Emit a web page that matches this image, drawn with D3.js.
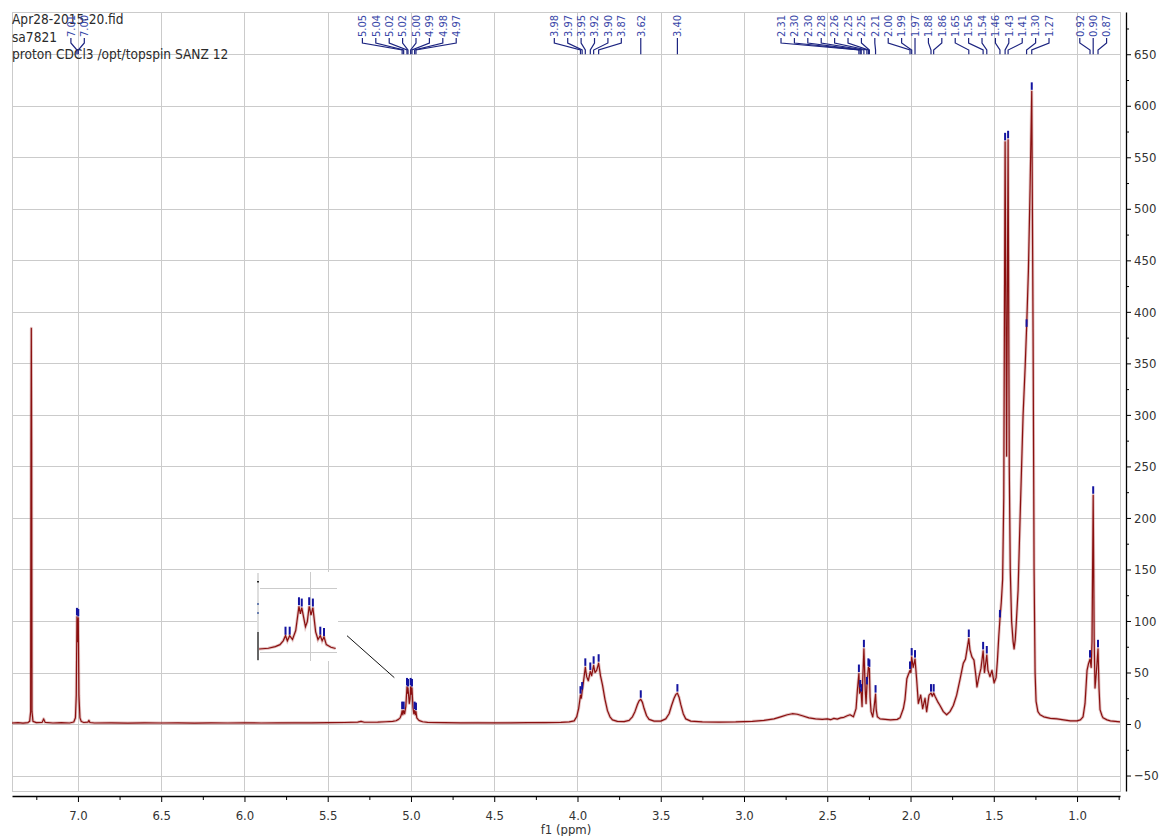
<!DOCTYPE html>
<html>
<head>
<meta charset="utf-8">
<script src="https://cdn.jsdelivr.net/npm/d3@7"></script>
<style>
  body { margin: 0; background: #fff; }
  svg { display: block; }
</style>
</head>
<body>
<svg id="chart" width="1161" height="836"></svg>
<script>
// ---- Spectrum header ----
const headerLines = ["Apr28-2015-20.fid", "sa7821", "proton CDCl3 /opt/topspin SANZ 12"];
const xLabel = "f1 (ppm)";

// ---- Axis ticks ----
const xTicks = [7.0, 6.5, 6.0, 5.5, 5.0, 4.5, 4.0, 3.5, 3.0, 2.5, 2.0, 1.5, 1.0];
const xMinorTicks = [7.25, 6.75, 6.25, 5.75, 5.25, 4.75, 4.25, 3.75, 3.25, 2.75, 2.25, 1.75, 1.25, 0.75];
const yTicks = [-50, 0, 50, 100, 150, 200, 250, 300, 350, 400, 450, 500, 550, 600, 650];
const yMinorTicks = [-25, 25, 75, 125, 175, 225, 275, 325, 375, 425, 475, 525, 575, 625, 675];

// ---- Picked peaks: chemical shift (ppm) and intensity ----
const peakPpm = [7.006, 6.998,
  5.053, 5.044, 5.024, 5.018, 5.002, 4.994, 4.978, 4.970,
  3.982, 3.972, 3.953, 3.923, 3.903, 3.873, 3.620, 3.400,
  2.310, 2.302, 2.296, 2.280, 2.262, 2.253, 2.247, 2.210,
  2.003, 1.993, 1.973, 1.877, 1.861, 1.650, 1.564, 1.542,
  1.463, 1.432, 1.414, 1.303, 1.272, 0.922, 0.903, 0.874];
const peakHeight = [104, 103,
  13, 13, 36, 35, 36, 35, 13, 12,
  28, 32, 55, 51, 57, 59, 24, 30,
  49, 34, 30, 73, 37, 55, 54, 29,
  52, 65, 63, 30, 30, 83, 71, 67,
  102, 565, 567, 384, 614, 63, 222, 73];

// ---- Spectrum trace between the picked peaks: [ppm, intensity] ----
const trace = [
  [7.396, 1.0], [7.36, 1.3], [7.33, 0.8], [7.30, 1.4], [7.29, 2.6], [7.284, 12], [7.282, 270], [7.280, 384],
  [7.278, 270], [7.276, 12], [7.27, 2.6], [7.25, 1.4], [7.215, 1.6], [7.206, 5], [7.197, 1.6], [7.15, 1.0],
  [7.10, 1.3], [7.05, 1.0], [7.025, 2], [7.015, 6], [7.010, 28], [7.002, 80], [6.994, 28], [6.988, 6],
  [6.98, 2.5], [6.965, 1.5], [6.94, 1.8], [6.934, 3.5], [6.928, 1.5], [6.90, 1.0], [6.80, 1.2], [6.70, 0.9],
  [6.60, 1.2], [6.50, 1.0], [6.40, 1.1], [6.30, 0.9], [6.20, 1.1], [6.10, 1.0], [6.00, 1.2], [5.90, 1.0],
  [5.80, 1.1], [5.70, 1.2], [5.60, 1.2], [5.50, 1.3], [5.40, 1.5], [5.32, 1.8], [5.30, 2.6], [5.28, 1.7],
  [5.20, 1.8], [5.15, 2.2], [5.11, 2.6], [5.09, 3.2], [5.075, 4.5], [5.065, 6], [5.058, 9], [5.049, 9],
  [5.038, 10], [5.031, 17], [5.021, 30], [5.010, 20], [5.006, 24], [4.998, 29], [4.988, 16], [4.983, 10],
  [4.974, 9], [4.965, 6], [4.955, 4], [4.945, 3], [4.93, 2.2], [4.90, 1.6], [4.80, 1.3], [4.70, 1.1],
  [4.60, 1.2], [4.50, 1.1], [4.40, 1.2], [4.30, 1.3], [4.20, 1.4], [4.10, 1.6], [4.05, 2.0], [4.02, 3],
  [4.005, 7], [3.993, 15], [3.987, 22], [3.977, 25], [3.965, 40], [3.945, 46], [3.935, 42], [3.915, 47],
  [3.895, 50], [3.885, 52], [3.862, 47], [3.850, 38], [3.835, 24], [3.82, 13], [3.805, 7], [3.79, 4],
  [3.76, 2.5], [3.72, 2.4], [3.69, 3.5], [3.67, 7], [3.655, 12], [3.64, 19], [3.63, 22.5], [3.61, 21],
  [3.60, 15], [3.585, 8], [3.57, 4.5], [3.54, 2.8], [3.50, 2.8], [3.47, 5], [3.45, 10], [3.435, 18],
  [3.42, 25], [3.41, 28.5], [3.39, 26], [3.38, 19], [3.365, 10], [3.35, 5], [3.32, 2.8], [3.25, 2.0],
  [3.15, 1.8], [3.05, 2.0], [2.95, 2.6], [2.88, 3.5], [2.82, 5], [2.78, 7], [2.74, 9], [2.71, 10],
  [2.68, 9.5], [2.65, 8], [2.61, 6], [2.57, 5], [2.53, 4.6], [2.50, 5], [2.48, 4.2], [2.46, 5.5],
  [2.44, 4.8], [2.42, 6], [2.40, 6.5], [2.38, 8], [2.363, 9], [2.343, 7], [2.327, 15], [2.319, 33],
  [2.306, 30], [2.291, 17], [2.287, 43], [2.272, 33], [2.267, 20], [2.243, 26], [2.237, 12], [2.227, 7],
  [2.219, 16], [2.206, 14], [2.199, 7], [2.183, 5], [2.12, 4], [2.08, 4.5], [2.063, 6], [2.043, 15],
  [2.033, 24], [2.022, 44], [2.013, 48], [1.998, 50], [1.984, 55], [1.963, 43], [1.953, 20], [1.939, 28],
  [1.927, 15], [1.913, 25], [1.903, 12], [1.889, 28], [1.869, 27], [1.853, 27], [1.838, 22], [1.823, 18],
  [1.803, 12], [1.783, 9], [1.763, 12], [1.743, 18], [1.723, 28], [1.703, 43], [1.683, 59], [1.670, 63],
  [1.661, 72], [1.643, 72], [1.631, 65], [1.619, 62], [1.607, 46], [1.601, 36], [1.589, 46], [1.577, 54],
  [1.556, 50], [1.535, 52], [1.523, 46], [1.511, 52], [1.498, 40], [1.486, 45], [1.478, 62], [1.470, 85],
  [1.455, 118], [1.447, 140], [1.440, 220], [1.423, 260], [1.407, 250], [1.401, 150], [1.393, 100], [1.384, 80],
  [1.378, 73], [1.371, 82], [1.366, 95], [1.354, 130], [1.342, 200], [1.324, 300], [1.312, 345], [1.292, 440],
  [1.282, 520], [1.264, 380], [1.258, 150], [1.252, 50], [1.246, 22], [1.235, 12], [1.222, 9], [1.20, 7],
  [1.16, 5.5], [1.12, 5], [1.08, 4], [1.04, 3], [1.00, 3], [0.98, 4], [0.964, 7], [0.952, 20],
  [0.940, 52], [0.932, 58], [0.915, 55], [0.910, 80], [0.897, 80], [0.892, 35], [0.884, 50], [0.868, 35],
  [0.862, 14], [0.850, 8], [0.844, 6], [0.82, 4], [0.80, 3], [0.77, 2.5], [0.742, 2]
];

// ---- Zoomed inset of the 5.0 ppm multiplet ----
const insetPpmRange = [5.108, 4.942];
const insetValueRange = [-6, 62];
const insetGridPpm = [5.0];
const insetGridValues = [0, 50];

// ---------------------------------------------------------------
const svg = d3.select("#chart");
const plot = { left: 12, right: 1120, top: 12, bottom: 791 };
const FONT = "'DejaVu Sans Condensed', 'DejaVu Sans', Verdana, sans-serif";

const x = d3.scaleLinear().domain([7.396, 0.742]).range([plot.left, plot.right]);
const y = d3.scaleLinear().domain([-65, 691]).range([plot.bottom, plot.top]);

const peaks = peakPpm.map((p, i) => ({ ppm: p, h: peakHeight[i], i }));
const spectrum = trace.concat(peaks.map(p => [p.ppm, p.h])).sort((a, b) => b[0] - a[0]);

// grid
const grid = svg.append("g").attr("stroke", "#cbcbcb").attr("stroke-width", 1).attr("shape-rendering", "crispEdges");
grid.selectAll(".gx").data(xTicks).join("line")
  .attr("x1", d => Math.round(x(d)) + 0.5).attr("x2", d => Math.round(x(d)) + 0.5)
  .attr("y1", plot.top).attr("y2", plot.bottom);
grid.selectAll(".gy").data(yTicks).join("line")
  .attr("x1", plot.left).attr("x2", plot.right)
  .attr("y1", d => Math.round(y(d)) + 0.5).attr("y2", d => Math.round(y(d)) + 0.5);
grid.append("rect")
  .attr("x", plot.left + 0.5).attr("y", plot.top + 0.5)
  .attr("width", plot.right - plot.left).attr("height", plot.bottom - plot.top)
  .attr("fill", "none");

// spectrum line: soft halo + dark core
const line = d3.line().x(d => x(d[0])).y(d => y(d[1]));
svg.append("path").datum(spectrum).attr("d", line)
  .attr("fill", "none").attr("stroke", "rgba(175,80,80,0.35)").attr("stroke-width", 3).attr("stroke-linejoin", "round");
svg.append("path").datum(spectrum).attr("d", line)
  .attr("fill", "none").attr("stroke", "#8a1010").attr("stroke-width", 1.2).attr("stroke-linejoin", "round");

// peak markers
const markerColor = "#1414a0";
svg.append("g").selectAll("line").data(peaks).join("line")
  .attr("x1", d => x(d.ppm)).attr("x2", d => x(d.ppm))
  .attr("y1", d => y(d.h) - 1.5).attr("y2", d => y(d.h) - 9)
  .attr("stroke", markerColor).attr("stroke-width", 2);

// inset
const inset = { left: 257, right: 338, top: 572, bottom: 661 };
const ix = d3.scaleLinear().domain(insetPpmRange).range([inset.left + 3, inset.right - 1]);
const iy = d3.scaleLinear().domain(insetValueRange).range([inset.bottom - 1, inset.top + 1]);
const ig = svg.append("g");
ig.append("rect").attr("x", inset.left).attr("y", inset.top)
  .attr("width", inset.right - inset.left).attr("height", inset.bottom - inset.top).attr("fill", "#fff");
ig.append("defs").append("clipPath").attr("id", "insetClip").append("rect")
  .attr("x", inset.left + 2).attr("y", inset.top).attr("width", inset.right - inset.left - 2).attr("height", inset.bottom - inset.top);
ig.selectAll(".igx").data(insetGridPpm).join("line")
  .attr("x1", d => Math.round(ix(d)) + 0.5).attr("x2", d => Math.round(ix(d)) + 0.5)
  .attr("y1", inset.top).attr("y2", inset.bottom)
  .attr("stroke", "#cbcbcb").attr("shape-rendering", "crispEdges");
ig.selectAll(".igy").data(insetGridValues).join("line")
  .attr("x1", inset.left + 3).attr("x2", inset.right - 1)
  .attr("y1", d => Math.round(iy(d)) + 0.5).attr("y2", d => Math.round(iy(d)) + 0.5)
  .attr("stroke", "#cbcbcb").attr("shape-rendering", "crispEdges");
// small vertical ruler on the inset's left side
ig.append("rect").attr("x", inset.left).attr("y", inset.top + 1).attr("width", 2)
  .attr("height", inset.bottom - inset.top - 1).attr("fill", "#dedede");
ig.append("rect").attr("x", inset.left).attr("y", iy(insetValueRange[0]) - 28).attr("width", 2)
  .attr("height", 28).attr("fill", "#666");
ig.append("rect").attr("x", inset.left).attr("y", inset.top + 9).attr("width", 2).attr("height", 1.5).attr("fill", "#222");
ig.selectAll(".idot").data([31, 40]).join("rect")
  .attr("x", inset.left).attr("y", d => inset.top + d).attr("width", 2).attr("height", 2).attr("fill", "#6a7fb0");

const insetData = spectrum.filter(d => d[0] <= insetPpmRange[0] + 0.01 && d[0] >= insetPpmRange[1] - 0.01);
const iline = d3.line().x(d => ix(d[0])).y(d => iy(d[1]));
const ic = ig.append("g").attr("clip-path", "url(#insetClip)");
ic.append("path").datum(insetData).attr("d", iline)
  .attr("fill", "none").attr("stroke", "rgba(175,80,80,0.35)").attr("stroke-width", 3);
ic.append("path").datum(insetData).attr("d", iline)
  .attr("fill", "none").attr("stroke", "#8a1010").attr("stroke-width", 1.2);
ic.selectAll(".imk").data(peaks.filter(p => p.ppm <= insetPpmRange[0] && p.ppm >= insetPpmRange[1])).join("line")
  .attr("x1", d => ix(d.ppm)).attr("x2", d => ix(d.ppm))
  .attr("y1", d => iy(d.h) - 1).attr("y2", d => iy(d.h) - 9)
  .attr("stroke", markerColor).attr("stroke-width", 2);
// leader from inset to the multiplet
svg.append("line")
  .attr("x1", inset.right + 9).attr("y1", iy(13))
  .attr("x2", x(5.10)).attr("y2", y(45))
  .attr("stroke", "#111").attr("stroke-width", 1);

// x axis
const xAxisY = 796;
const gx = svg.append("g").attr("transform", `translate(0,${xAxisY})`)
  .call(d3.axisBottom(x).tickValues(xTicks).tickFormat(d3.format(".1f")).tickSize(6).tickSizeOuter(0).tickPadding(9));
svg.append("g").attr("transform", `translate(0,${xAxisY})`)
  .call(d3.axisBottom(x).tickValues(xMinorTicks).tickFormat("").tickSize(4).tickSizeOuter(0))
  .select(".domain").remove();
gx.select(".domain").attr("stroke", "#000").attr("stroke-width", 1.3);
gx.selectAll("text").attr("font-family", FONT).attr("font-size", 13).attr("fill", "#333");
svg.append("text").attr("x", (plot.left + plot.right) / 2).attr("y", 834)
  .attr("text-anchor", "middle").attr("font-family", FONT).attr("font-size", 13).attr("fill", "#333")
  .text(xLabel);

// y axis (right)
const yAxisX = 1126;
const gy = svg.append("g").attr("transform", `translate(${yAxisX},0)`)
  .call(d3.axisRight(y).tickValues(yTicks).tickSize(5).tickSizeOuter(0).tickPadding(3));
svg.append("g").attr("transform", `translate(${yAxisX},0)`)
  .call(d3.axisRight(y).tickValues(yMinorTicks).tickFormat("").tickSize(3).tickSizeOuter(0))
  .select(".domain").remove();
gy.select(".domain").attr("stroke", "#000").attr("stroke-width", 1.3);
gy.selectAll("text").attr("font-family", FONT).attr("font-size", 13).attr("fill", "#333");
svg.selectAll(".tick line").attr("stroke", "#000");

// header text
svg.append("g").selectAll("text").data(headerLines).join("text")
  .attr("x", 12).attr("y", (d, i) => 24 + i * 17.5)
  .attr("font-family", FONT).attr("font-size", 13.6).attr("fill", "#2a2a2a")
  .text(d => d);

// peak labels: spread overlapping labels around the median of their peaks
function spreadLabels(xs, gap) {
  let clusters = xs.map((v, i) => [i]);
  const extent = c => {
    const m = d3.median(c, i => xs[i]);
    return [m - (c.length - 1) * gap / 2, m + (c.length - 1) * gap / 2];
  };
  let changed = true;
  while (changed) {
    changed = false;
    for (let k = 0; k < clusters.length - 1; k++) {
      if (extent(clusters[k])[1] + gap > extent(clusters[k + 1])[0]) {
        clusters[k] = clusters[k].concat(clusters[k + 1]);
        clusters.splice(k + 1, 1);
        changed = true;
        break;
      }
    }
  }
  const out = new Array(xs.length);
  clusters.forEach(c => {
    const s = extent(c)[0];
    c.forEach((i, j) => { out[i] = s + j * gap; });
  });
  return out;
}
const peakX = peaks.map(p => x(p.ppm));
const labelX = spreadLabels(peakX, 13.4);
const labelBase = 38, bendTop = 43, bendBottom = 50, leadEnd = y(650);
const lg = svg.append("g");
lg.selectAll("path").data(peaks).join("path")
  .attr("d", d => `M${labelX[d.i]},${labelBase}V${bendTop}L${peakX[d.i]},${bendBottom}V${leadEnd}`)
  .attr("fill", "none").attr("stroke", "#1c2480").attr("stroke-width", 1.2);
lg.selectAll("text").data(peaks).join("text")
  .attr("transform", d => `translate(${labelX[d.i]},${labelBase - 1}) rotate(-90)`)
  .attr("dy", "0.35em")
  .attr("font-family", FONT).attr("font-size", 11).attr("fill", "#3947a8")
  .text(d => d.ppm.toFixed(2));
</script>
</body>
</html>
